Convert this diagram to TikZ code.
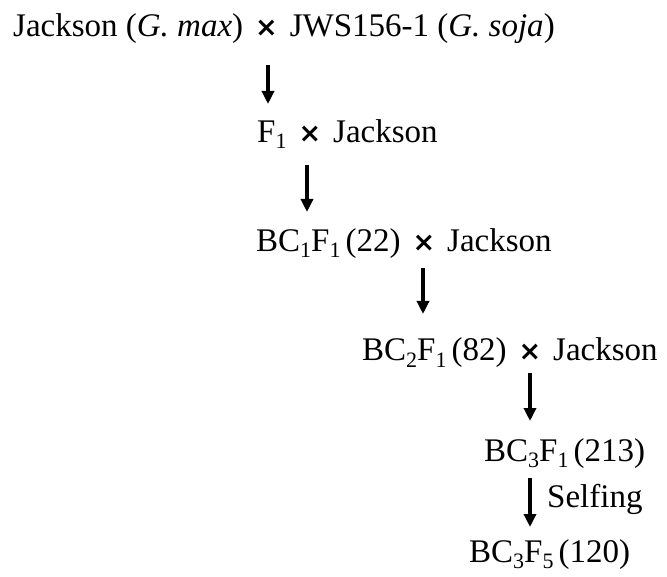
\documentclass[tikz,border=0pt]{standalone}
\usepackage{fontspec}
\setmainfont{Liberation Serif}
\newfontfamily\symfont{DejaVu Sans}
\usetikzlibrary{arrows.meta}
\newcommand{\crs}{\hspace{12pt}{\symfont\bfseries\fontsize{27}{30}\selectfont ×}\hspace{12pt}}
\newcommand{\sbs}[1]{\raisebox{-6pt}{\fontsize{22}{26}\selectfont #1}}
\newcommand{\gap}{\hspace{5pt}}
\begin{document}
\begin{tikzpicture}[x=1pt,y=-1pt,
  lbl/.style={anchor=base west,inner sep=0pt,font=\fontsize{33}{38}\selectfont},
  arr/.style={line width=3.5pt,-{Triangle[length=13pt,width=12pt]}}]
\useasboundingbox (0,0) rectangle (667,577);
\node[lbl] (l1) at (13,37) {Jackson (\textit{G. max})\crs JWS156-1 (\textit{G. soja})};
\node[lbl] (l2) at (257,143) {F\sbs{1}\crs Jackson};
\node[lbl] (l3) at (256,252) {BC\sbs{1}F\sbs{1}\gap(22)\crs Jackson};
\node[lbl] (l4) at (362,361) {BC\sbs{2}F\sbs{1}\gap(82)\crs Jackson};
\node[lbl] (l5) at (484,461) {BC\sbs{3}F\sbs{1}\gap(213)};
\node[lbl] (l6) at (469,562) {BC\sbs{3}F\sbs{5}\gap(120)};
\coordinate (a1s) at (268,65); \coordinate (a1e) at (268,104);
\coordinate (a2s) at (307,165); \coordinate (a2e) at (307,212);
\coordinate (a3s) at (423,268); \coordinate (a3e) at (423,314);
\coordinate (a4s) at (530,373); \coordinate (a4e) at (530,421);
\coordinate (a5s) at (530,478); \coordinate (a5e) at (530,527);
\draw[arr] (a1s) -- (a1e);
\draw[arr] (a2s) -- (a2e);
\draw[arr] (a3s) -- (a3e);
\draw[arr] (a4s) -- (a4e);
\draw[arr] (a5s) -- (a5e);
\node[lbl] (self) at (547,507) {Selfing};
\end{tikzpicture}
\end{document}
